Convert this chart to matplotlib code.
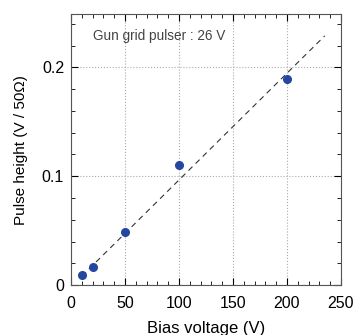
import matplotlib.pyplot as plt
from matplotlib.ticker import MultipleLocator, FixedFormatter, FixedLocator

plt.rcParams['font.family'] = ['Liberation Sans', 'DejaVu Sans']

bias_v = [10, 20, 50, 100, 200]
pulse_h = [0.009, 0.0168, 0.049, 0.110, 0.189]
fit_x = [10, 235]
fit_y = [0.0083, 0.229]
y_ticks = [0, 0.1, 0.2]
y_labels = ['0', '0.1', '0.2']

fig = plt.figure(figsize=(3.57, 3.35), dpi=100)
ax = fig.add_axes([0.199, 0.149, 0.756, 0.809])

ax.plot(fit_x, fit_y, color='#333333', lw=0.8, ls=(0, (5, 4)))
ax.plot(bias_v, pulse_h, 'o', color='#2448a0', ms=5.5)

ax.set_xlim(0, 250)
ax.set_ylim(0, 0.249)
ax.xaxis.set_major_locator(MultipleLocator(50))
ax.xaxis.set_minor_locator(MultipleLocator(10))
ax.yaxis.set_major_locator(FixedLocator(y_ticks))
ax.yaxis.set_major_formatter(FixedFormatter(y_labels))
ax.yaxis.set_minor_locator(MultipleLocator(0.02))
ax.tick_params(which='both', direction='in', top=True, right=True, labelsize=11.5)
ax.tick_params(axis='x', which='major', pad=8)
ax.tick_params(axis='y', which='major', pad=5)
ax.tick_params(which='major', length=5)
ax.tick_params(which='minor', length=3)
ax.grid(True, which='major', color='#aaaaaa', ls=':', lw=0.8)
for s in ax.spines.values():
    s.set_color('#555555')

ax.text(0.08, 0.92, 'Gun grid pulser : 26 V', transform=ax.transAxes,
        fontsize=9.8, color='#444444', va='center')
ax.set_xlabel('Bias voltage (V)', fontsize=12, labelpad=7)
ax.set_ylabel('Pulse height (V / 50\u03a9)', fontsize=11, labelpad=10)

fig.savefig('out.png')
